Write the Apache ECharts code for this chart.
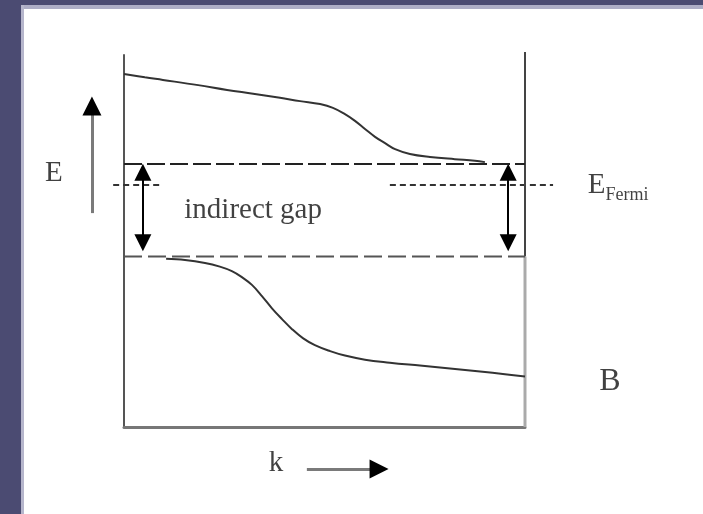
<!DOCTYPE html>
<html>
<head>
<meta charset="utf-8">
<script src="https://cdn.jsdelivr.net/npm/echarts@6/dist/echarts.min.js"></script>
<style>
  html, body { margin: 0; padding: 0; background: #ffffff; }
  .band { position: absolute; }
  #chart { position: absolute; left: 0; top: 0; width: 703px; height: 514px; }
</style>
</head>
<body>
<div class="band" style="left:0;top:0;width:703px;height:5px;background:#4b4b72;"></div>
<div class="band" style="left:21px;top:5px;width:682px;height:4px;background:#aeaec6;"></div>
<div class="band" style="left:0;top:0;width:21px;height:514px;background:#4b4b72;"></div>
<div class="band" style="left:21px;top:5px;width:3px;height:509px;background:#b6b6cc;"></div>
<div id="chart"></div>
<script>
// ---- data (k in arbitrary units 0..100 across the box, E in arbitrary units 0..100) ----
const upperBandK = [0, 5.2, 9.7, 18.5, 25.7, 32.2, 38.9, 43.9, 48.9, 52.1, 55.1, 57.6, 60.1, 62.6, 65.1, 67.6, 71.3, 76.3, 82.5, 87.5, 90.0];
const upperBandE = [94.9, 94.0, 93.3, 91.9, 90.6, 89.6, 88.5, 87.6, 86.8, 85.8, 84.1, 82.3, 80.1, 78.0, 76.3, 74.7, 73.4, 72.6, 72.0, 71.6, 71.2];

const lowerBandK = [10.5, 15.2, 20.2, 23.9, 26.9, 29.4, 31.9, 34.4, 36.9, 39.4, 41.9, 44.6, 47.6, 51.4, 55.1, 60.1, 66.3, 73.8, 81.3, 88.8, 95.0, 100];
const lowerBandE = [45.2, 44.9, 44.1, 43.1, 41.9, 40.3, 38.2, 35.2, 31.9, 29.0, 26.3, 23.9, 22.0, 20.4, 19.2, 18.1, 17.3, 16.5, 15.7, 14.9, 14.2, 13.6];

const conductionMinE = 70.7;
const valenceMaxE = 45.8;
const fermiE = 65.2;
const fermiSegmentsK = [[-2.7, 9.0], [66.3, 107]];

const boxK = [0, 100];
const boxTopRightE = 100.8;

// double arrows (indirect gap), from/to in data units
const gapArrowK = [4.7, 95.8];
const gapArrowE = [68.5, 49.5];

// axis arrows
const energyArrow = { k: -8.0, from: 57.5, to: 86.3 };
const momentumArrow = { E: -11.3, from: 45.6, to: 63.6 };

// text labels
const labelNames = ['E', 'indirect gap', 'EFermi', 'B', 'k'];
const labelK = [-17.5, 32.2, 123.2, 121.2, 37.9];
const labelE = [68.3, 58.3, 65.2, 12.1, -9.9];

// ---- build ----
const zip = (a, b) => a.map((v, i) => [v, b[i]]);
const serif = '"Liberation Serif", "DejaVu Serif", serif';
const ink = '#111';

const labelStyles = {
  'E': { fontSize: 29, formatter: 'E' },
  'indirect gap': { fontSize: 29, formatter: 'indirect gap' },
  'EFermi': {
    formatter: '{e|E}{s|Fermi}',
    rich: {
      e: { fontSize: 29, fontFamily: serif, color: ink, lineHeight: 30, verticalAlign: 'bottom' },
      s: { fontSize: 18, fontFamily: serif, color: ink, lineHeight: 30, verticalAlign: 'bottom', padding: [0, 0, -5, 0] }
    }
  },
  'B': { fontSize: 32, formatter: 'B' },
  'k': { fontSize: 29, formatter: 'k' }
};

const labelData = labelNames.map((n, i) => ({
  name: n,
  value: [labelK[i], labelE[i]],
  label: Object.assign({ show: true, position: 'inside', color: ink, fontFamily: serif }, labelStyles[n])
}));

const arrowHead = (from, to, color, size) => ({
  type: 'lines', coordinateSystem: 'cartesian2d', clip: false,
  symbol: ['none', 'triangle'], symbolSize: size,
  data: [{ coords: [from, to] }],
  lineStyle: { color: color, width: 1, opacity: 1 }
});

const chart = echarts.init(document.getElementById('chart'), null, { renderer: 'canvas' });

const option = {
  backgroundColor: 'transparent',
  animation: false,
  grid: { left: 124, right: 178, top: 55, bottom: 87, containLabel: false },
  xAxis: {
    type: 'value', min: 0, max: 100,
    axisLine: { show: true, onZero: false, lineStyle: { color: '#777', width: 3 } },
    axisTick: { show: false }, axisLabel: { show: false }, splitLine: { show: false }
  },
  yAxis: {
    type: 'value', min: 0, max: 100,
    axisLine: { show: true, onZero: false, lineStyle: { color: '#555', width: 2 } },
    axisTick: { show: false }, axisLabel: { show: false }, splitLine: { show: false }
  },
  series: [
    {
      name: 'right border upper', type: 'line', clip: false, symbol: 'none',
      data: [[boxK[1], boxTopRightE], [boxK[1], valenceMaxE]],
      lineStyle: { color: '#444', width: 2 }
    },
    {
      name: 'right border lower', type: 'line', clip: false, symbol: 'none',
      data: [[boxK[1], valenceMaxE], [boxK[1], 0]],
      lineStyle: { color: '#aaa', width: 3 }
    },
    {
      name: 'conduction band', type: 'line', clip: false, symbol: 'none', smooth: 0.4,
      data: zip(upperBandK, upperBandE),
      lineStyle: { color: '#333', width: 2 }
    },
    {
      name: 'valence band', type: 'line', clip: false, symbol: 'none', smooth: 0.4,
      data: zip(lowerBandK, lowerBandE),
      lineStyle: { color: '#333', width: 2 }
    },
    {
      name: 'conduction minimum', type: 'line', clip: false, symbol: 'none',
      data: [[boxK[0], conductionMinE], [boxK[1], conductionMinE]],
      lineStyle: { color: '#222', width: 2, type: [18, 5] }
    },
    {
      name: 'valence maximum', type: 'line', clip: false, symbol: 'none',
      data: [[boxK[0], valenceMaxE], [boxK[1], valenceMaxE]],
      lineStyle: { color: '#555', width: 2, type: [18, 6] }
    },
    {
      name: 'fermi', type: 'lines', coordinateSystem: 'cartesian2d', clip: false,
      data: fermiSegmentsK.map(s => ({ coords: [[s[0], fermiE], [s[1], fermiE]] })),
      lineStyle: { color: '#333', width: 2, type: [6, 4], opacity: 1 }
    },
    {
      name: 'gap arrows', type: 'lines', coordinateSystem: 'cartesian2d', clip: false,
      symbol: ['triangle', 'triangle'], symbolSize: 17,
      data: gapArrowK.map(k => ({ coords: [[k, gapArrowE[0]], [k, gapArrowE[1]]] })),
      lineStyle: { color: '#000', width: 2, opacity: 1 }
    },
    {
      name: 'energy axis arrow', type: 'lines', coordinateSystem: 'cartesian2d', clip: false,
      symbol: 'none',
      data: [{ coords: [[energyArrow.k, energyArrow.from], [energyArrow.k, energyArrow.to]] }],
      lineStyle: { color: '#7a7a7a', width: 3, opacity: 1 }
    },
    Object.assign({ name: 'energy arrow head' },
      arrowHead([energyArrow.k, energyArrow.to - 0.5], [energyArrow.k, energyArrow.to], '#000', 19)),
    {
      name: 'momentum axis arrow', type: 'lines', coordinateSystem: 'cartesian2d', clip: false,
      symbol: 'none',
      data: [{ coords: [[momentumArrow.from, momentumArrow.E], [momentumArrow.to, momentumArrow.E]] }],
      lineStyle: { color: '#7a7a7a', width: 3, opacity: 1 }
    },
    Object.assign({ name: 'momentum arrow head' },
      arrowHead([momentumArrow.to - 0.5, momentumArrow.E], [momentumArrow.to, momentumArrow.E], '#000', 19)),
    {
      name: 'labels', type: 'scatter', clip: false, symbolSize: 0,
      itemStyle: { color: 'transparent' },
      data: labelData
    }
  ]
};
chart.setOption(option);
</script>
</body>
</html>
